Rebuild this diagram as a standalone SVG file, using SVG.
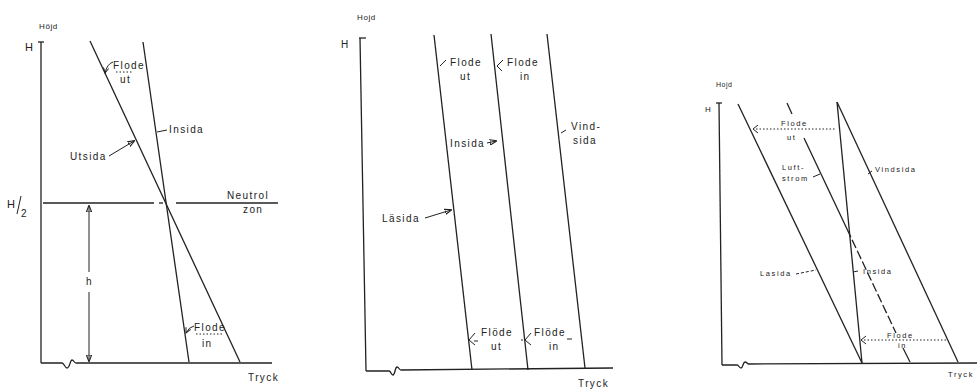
<svg xmlns="http://www.w3.org/2000/svg" width="977" height="389" viewBox="0 0 977 389">
<defs>
<marker id="ah" viewBox="0 0 8 8" refX="7" refY="4" markerWidth="6" markerHeight="6" orient="auto" markerUnits="userSpaceOnUse">
<path d="M0,0.5 L7,4 L0,7.5" fill="none" stroke="#222" stroke-width="1.2"/>
</marker>
<marker id="af" viewBox="0 0 8 8" refX="7" refY="4" markerWidth="7" markerHeight="7" orient="auto" markerUnits="userSpaceOnUse">
<path d="M0,1 L8,4 L0,7 Z" fill="#222"/>
</marker>
</defs>
<style>
line,path,polyline{stroke:#222;stroke-width:1.3;fill:none}
.thin{stroke-width:1}
.dot{stroke-width:1;stroke-dasharray:1.5 2}
.dash{stroke-dasharray:9 3}
text{font-family:"Liberation Sans","DejaVu Sans",sans-serif;fill:#222}
.t1{font-size:10px;letter-spacing:1.4px}
.t3{font-size:7.5px;letter-spacing:1.6px}
.ax{font-size:8px;letter-spacing:0.6px}
</style>
<rect width="977" height="389" fill="#fff"/>

<g id="panel1">
<text class="ax" x="39" y="29">Höjd</text>
<text x="25" y="51" font-size="11">H</text>
<text x="7" y="208" font-size="11">H</text>
<line x1="17" y1="214" x2="21" y2="196" class="thin"/>
<text x="21" y="217" font-size="10">2</text>
<g id="p1-axes">
<line x1="41" y1="42" x2="41" y2="363"/>
<line x1="38" y1="42" x2="44" y2="42"/>
<path d="M41,363 H62 C64,363 65,368 67,368 C70,368 70,360 72,360 C74,360 74,363 76,363 H272"/>
<text class="t1" x="248" y="381" font-size="9">Tryck</text>
</g>
<g id="p1-lines">
<line x1="90" y1="41" x2="240" y2="362"/>
<line x1="143" y1="42" x2="189" y2="362"/>
<line x1="43" y1="203" x2="154" y2="203"/>
<line x1="159" y1="203" x2="163" y2="203"/>
<line x1="176" y1="203" x2="278" y2="203"/>
</g>
<g id="p1-h">
<line x1="89" y1="272" x2="89" y2="206" class="thin" marker-end="url(#af)"/>
<line x1="89" y1="292" x2="89" y2="361" class="thin" marker-end="url(#af)"/>
<text class="t1" x="86" y="285">h</text>
</g>
<g id="p1-neutral">
<text class="t1" x="227" y="199">Neutrol</text>
<text class="t1" x="243" y="213">zon</text>
</g>
<g id="p1-flode-ut">
<text class="t1" x="113" y="69">Flode</text>
<text class="t1" x="120" y="83">ut</text>
<line x1="116" y1="72" x2="133" y2="72" class="dot"/>
<path d="M113,62 Q107,64 105,73" class="thin" marker-end="url(#ah)"/>
</g>
<g id="p1-insida">
<text class="t1" x="169" y="133">Insida</text>
<line x1="167" y1="130" x2="157" y2="132" class="thin"/>
</g>
<g id="p1-utsida">
<text class="t1" x="70" y="160">Utsida</text>
<line x1="109" y1="156" x2="134" y2="141" class="thin" marker-end="url(#af)"/>
</g>
<g id="p1-flode-in">
<text class="t1" x="194" y="331">Flode</text>
<text class="t1" x="202" y="347">in</text>
<line x1="196" y1="334" x2="224" y2="334" class="dot"/>
<path d="M194,326 Q189,327 186,333" class="thin" marker-end="url(#ah)"/>
</g>
</g>

<g id="panel2">
<text class="ax" x="357" y="20">Hojd</text>
<text x="341" y="48" font-size="10">H</text>
<g id="p2-axes">
<line x1="360" y1="38" x2="366" y2="371"/>
<line x1="359" y1="38" x2="366" y2="38"/>
<path d="M366,371 H389 C391,371 391,375 393,375 C395,375 395,367 397,367 C399,367 399,370 401,370 L613,368"/>
<text class="t1" x="578" y="387" font-size="9">Tryck</text>
</g>
<g id="p2-lines">
<line x1="434" y1="35" x2="472" y2="370"/>
<line x1="491" y1="34" x2="528" y2="370"/>
<line x1="547" y1="34" x2="585" y2="368"/>
</g>
<g id="p2-flode-ut-top">
<text class="t1" x="450" y="66">Flode</text>
<text class="t1" x="460" y="80">ut</text>
<line x1="446" y1="60" x2="440" y2="66" class="thin"/>
</g>
<g id="p2-flode-in-top">
<text class="t1" x="507" y="66">Flode</text>
<text class="t1" x="520" y="80">in</text>
<line x1="503" y1="60" x2="497" y2="66" class="thin"/>
<line x1="497" y1="66" x2="502" y2="71" class="thin"/>
</g>
<g id="p2-vindsida">
<text class="t1" x="571" y="130">Vind-</text>
<text class="t1" x="573" y="144">sida</text>
<line x1="566" y1="130" x2="561" y2="133" class="thin"/>
</g>
<g id="p2-insida">
<text class="t1" x="450" y="147">Insida</text>
<line x1="487" y1="143" x2="496" y2="141" class="thin" marker-end="url(#af)"/>
</g>
<g id="p2-lasida">
<text class="t1" x="382" y="222">Läsida</text>
<line x1="425" y1="218" x2="451" y2="210" class="thin" marker-end="url(#af)"/>
</g>
<g id="p2-flode-ut-bot">
<text class="t1" x="481" y="336">Flöde</text>
<text class="t1" x="491" y="350">ut</text>
<path d="M475,333 L469,340 L475,345" class="thin"/>
<line x1="474" y1="341" x2="478" y2="341" class="thin"/>
<line x1="521" y1="340" x2="523" y2="340" class="thin"/>
</g>
<g id="p2-flode-in-bot">
<text class="t1" x="534" y="336">Flöde</text>
<text class="t1" x="549" y="350">in</text>
<path d="M531,333 L525,340 L531,345" class="thin"/>
<line x1="567" y1="339" x2="572" y2="339" class="thin"/>
</g>
</g>

<g id="panel3">
<text x="716" y="87" font-size="7" letter-spacing="0.5">Hojd</text>
<text x="705" y="112" font-size="8">H</text>
<g id="p3-axes">
<line x1="719" y1="103" x2="722" y2="365"/>
<line x1="716" y1="103" x2="722" y2="103"/>
<path d="M722,365 H737 C739,365 739,368 741,368 C743,368 743,362 745,362 C747,362 747,364 749,364 L977,363"/>
<text class="t3" x="948" y="377" font-size="8">Tryck</text>
</g>
<g id="p3-lines">
<line x1="738" y1="104" x2="862" y2="363"/>
<line x1="787" y1="103" x2="792" y2="114"/>
<line x1="804" y1="138" x2="847" y2="229"/>
<line x1="847" y1="229" x2="896" y2="333" class="dash"/>
<line x1="903" y1="348" x2="910" y2="362"/>
<line x1="837" y1="102" x2="958" y2="362"/>
<line x1="837" y1="102" x2="862" y2="363"/>
</g>
<g id="p3-flode-ut">
<line x1="756" y1="129" x2="836" y2="129" class="dot"/>
<path d="M758,125 L753,129 L758,133" class="thin"/>
<text class="t3" x="781" y="126">Flode</text>
<text class="t3" x="787" y="140">ut</text>
</g>
<g id="p3-luftstrom">
<text class="t3" x="782" y="170">Luft-</text>
<text class="t3" x="782" y="181">strom</text>
<line x1="813" y1="177" x2="820" y2="174" class="thin"/>
</g>
<g id="p3-vindsida">
<text class="t3" x="875" y="172">Vindsida</text>
<line x1="872" y1="171" x2="868" y2="174" class="thin"/>
</g>
<g id="p3-lasida">
<text class="t3" x="760" y="276">Lasida</text>
<line x1="796" y1="274" x2="816" y2="270" class="thin" stroke-dasharray="3 2"/>
</g>
<g id="p3-insida">
<text class="t3" x="863" y="274">Insida</text>
<line x1="858" y1="271" x2="853" y2="272" class="thin"/>
</g>
<g id="p3-flode-in">
<line x1="864" y1="340" x2="946" y2="340" class="dot"/>
<path d="M866,336 L861,340 L866,344" class="thin"/>
<text class="t3" x="887" y="338">Flode</text>
<text class="t3" x="898" y="348">in</text>
</g>
</g>
</svg>
